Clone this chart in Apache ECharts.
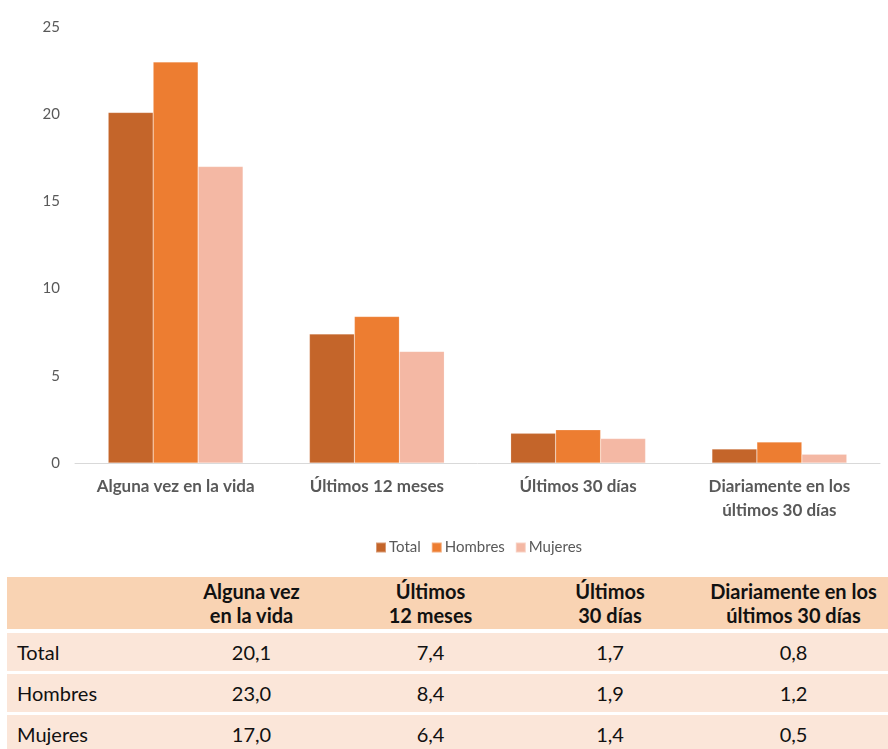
<!DOCTYPE html>
<html>
<head>
<meta charset="utf-8">
<script src="https://cdn.jsdelivr.net/npm/echarts@6/dist/echarts.min.js"></script>
<style>
    html, body { margin: 0; padding: 0; background: #fff; }
    body { width: 888px; height: 749px; position: relative; overflow: hidden; font-family: Lato, 'Open Sans', sans-serif; }
    #chart { position: absolute; left: 0; top: 0; width: 888px; height: 575px; }
    #table { position: absolute; left: 7px; top: 577px; width: 881px; }
    .trow { display: flex; margin-bottom: 3px; background: #fbe6d9; }
    .trow.head { background: #f9d3b3; height: 52px; font-weight: bold; margin-bottom: 4px; }
    .trow.body { height: 38px; }
    .cell { display: flex; align-items: center; justify-content: center; text-align: center; font-size: 20px; color: #111; line-height: 24px; }
    .cell.first { justify-content: flex-start; padding-left: 10px; }
</style>
</head>
<body>
<div id="chart"></div>
<div id="table"></div>
<script>
// Categories and series values
var categories = ['Alguna vez en la vida', 'Últimos 12 meses', 'Últimos 30 días', 'Diariamente en los\núltimos 30 días'];
var tableHeaders = ['Alguna vez\nen la vida', 'Últimos\n12 meses', 'Últimos\n30 días', 'Diariamente en los\núltimos 30 días'];
var seriesNames = ['Total', 'Hombres', 'Mujeres'];
var totalValues = [20.1, 7.4, 1.7, 0.8];
var hombresValues = [23.0, 8.4, 1.9, 1.2];
var mujeresValues = [17.0, 6.4, 1.4, 0.5];
var yTicks = [0, 5, 10, 15, 20, 25];

var colors = ['#c4652a', '#ed7d31', '#f4b8a4'];
var columnWidths = [156, 177, 181, 178, 189];

function buildSeries(name, values, color) {
    return {
        name: name,
        type: 'bar',
        data: values,
        barGap: '0%',
        barCategoryGap: '33%',
        itemStyle: { color: color, borderColor: 'rgba(255,255,255,0.35)', borderWidth: 0.5 }
    };
}

var chart = echarts.init(document.getElementById('chart'));

chart.setOption({
    animation: false,
    textStyle: { fontFamily: 'Lato, sans-serif' },
    grid: { left: 75, right: 8, top: 27, bottom: 112 },
    legend: {
        data: seriesNames,
        bottom: 15,
        left: 370,
        itemWidth: 10,
        itemHeight: 10,
        itemGap: 10,
        icon: 'rect',
        textStyle: { color: '#595959', fontSize: 15, padding: [0, 0, 0, -2] }
    },
    xAxis: {
        type: 'category',
        data: categories,
        axisLine: { lineStyle: { color: '#d9d9d9', width: 1 } },
        axisTick: { show: false },
        axisLabel: {
            color: '#595959',
            fontSize: 17,
            fontWeight: 'bold',
            margin: 12,
            lineHeight: 24,
            interval: 0
        }
    },
    yAxis: {
        type: 'value',
        min: yTicks[0],
        max: yTicks[yTicks.length - 1],
        interval: 5,
        axisLine: { show: false },
        axisTick: { show: false },
        splitLine: { show: false },
        axisLabel: { color: '#595959', fontSize: 15, margin: 15 }
    },
    series: [
        buildSeries(seriesNames[0], totalValues, colors[0]),
        buildSeries(seriesNames[1], hombresValues, colors[1]),
        buildSeries(seriesNames[2], mujeresValues, colors[2])
    ]
});

// Data table below the chart
function fmt(v) {
    return v.toFixed(1).replace('.', ',');
}

var tableEl = document.getElementById('table');
var html = '<div class="trow head"><div class="cell first" style="width:' + (columnWidths[0] - 10) + 'px"></div>';
tableHeaders.forEach(function(h, i) {
    html += '<div class="cell" style="width:' + columnWidths[i + 1] + 'px">' + h.replace('\n', '<br>') + '</div>';
});
html += '</div>';

var rows = [totalValues, hombresValues, mujeresValues];
rows.forEach(function(values, r) {
    html += '<div class="trow body"><div class="cell first" style="width:' + (columnWidths[0] - 10) + 'px">' + seriesNames[r] + '</div>';
    values.forEach(function(v, i) {
        html += '<div class="cell" style="width:' + columnWidths[i + 1] + 'px">' + fmt(v) + '</div>';
    });
    html += '</div>';
});
tableEl.innerHTML = html;
</script>
</body>
</html>
